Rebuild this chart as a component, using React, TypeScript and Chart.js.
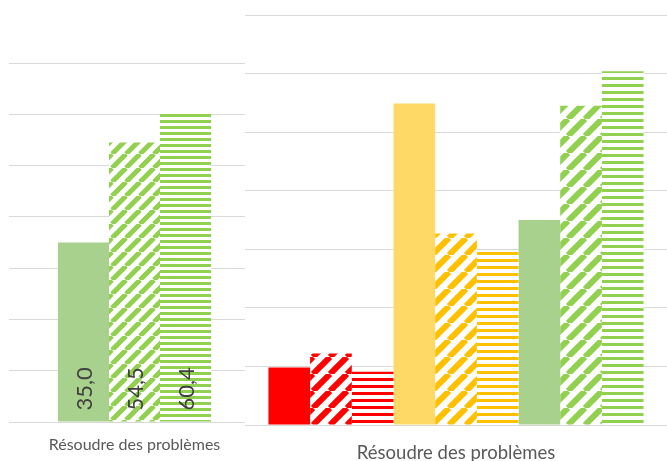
import React, { useEffect, useRef } from "react";
import { Chart, registerables } from "chart.js";

Chart.register(...registerables);

// ---- Data ----
const categories = ["Résoudre des problèmes"];
const redValues = [9.8, 12.2, 9.1];
const yellowValues = [54.9, 32.7, 29.6];
const greenValues = [35.0, 54.5, 60.4];
const yMin = 0;
const yMax = 70;
const yStep = 10;

// ---- Styles ----
const FONT = "Lato, 'Open Sans', sans-serif";
const GRID = "#d9d9d9";
const RED = "#ff0000";
const YELLOW_SOLID = "#ffd966";
const YELLOW_PAT = "#ffc000";
const GREEN_SOLID = "#a9d18e";
const GREEN_PAT = "#92d050";

function diagPattern(color: string, size: number, lw: number) {
  const c = document.createElement("canvas");
  c.width = size;
  c.height = size;
  const g = c.getContext("2d")!;
  g.fillStyle = "#ffffff";
  g.fillRect(0, 0, size, size);
  g.strokeStyle = color;
  g.lineWidth = lw;
  g.beginPath();
  for (const o of [-size, 0, size]) {
    g.moveTo(o, size);
    g.lineTo(o + size, 0);
  }
  g.stroke();
  return g.createPattern(c, "repeat")!;
}

function horizPattern(color: string, period: number, th: number) {
  const c = document.createElement("canvas");
  c.width = 8;
  c.height = period;
  const g = c.getContext("2d")!;
  g.fillStyle = "#ffffff";
  g.fillRect(0, 0, 8, period);
  g.fillStyle = color;
  g.fillRect(0, 0, 8, th);
  return g.createPattern(c, "repeat")!;
}

const fmt = (v: number) => v.toFixed(1).replace(".", ",");

const valueLabelPlugin = {
  id: "valueLabels",
  afterDatasetsDraw(chart: any) {
    const ctx = chart.ctx;
    chart.data.datasets.forEach((ds: any, i: number) => {
      const meta = chart.getDatasetMeta(i);
      meta.data.forEach((bar: any, j: number) => {
        const v = ds.data[j];
        ctx.save();
        ctx.translate(bar.x + 1, bar.base - 11);
        ctx.rotate(-Math.PI / 2);
        ctx.textAlign = "left";
        ctx.textBaseline = "middle";
        ctx.fillStyle = "#404040";
        ctx.font = `22px ${FONT}`;
        ctx.fillText(fmt(v), 0, 0);
        ctx.restore();
      });
    });
  },
};

// Category label drawn under the plot at the x scale's category position
function categoryLabelPlugin(fontSize: number, baselineOffset: number) {
  return {
    id: "categoryLabel",
    afterDraw(chart: any) {
      const ctx = chart.ctx;
      const xs = chart.scales.x;
      ctx.save();
      ctx.font = `${fontSize}px ${FONT}`;
      ctx.fillStyle = "#595959";
      ctx.textAlign = "center";
      ctx.textBaseline = "alphabetic";
      chart.data.labels.forEach((lab: string, i: number) => {
        ctx.fillText(lab, xs.getPixelForValue(i), chart.chartArea.bottom + baselineOffset);
      });
      ctx.restore();
    },
  };
}

type PanelProps = {
  left: number;
  width: number;
  height: number;
  build: () => any;
};

function Panel({ left, width, height, build }: PanelProps) {
  const ref = useRef<HTMLCanvasElement | null>(null);
  useEffect(() => {
    if (!ref.current) return;
    const chart = new Chart(ref.current, build());
    return () => chart.destroy();
  }, []);
  return (
    <canvas
      ref={ref}
      width={width}
      height={height}
      style={{
        position: "absolute",
        left,
        top: 0,
        width,
        height,
        background: "#ffffff",
      }}
    />
  );
}

function baseOptions(pad: any) {
  return {
    responsive: false,
    animation: false,
    devicePixelRatio: 1,
    layout: { padding: pad },
    plugins: { legend: { display: false }, tooltip: { enabled: false } },
    scales: {
      x: { display: false },
      y: {
        min: yMin,
        max: yMax,
        ticks: { stepSize: yStep, display: false },
        grid: { color: GRID, lineWidth: 1, drawTicks: false },
        border: { display: false },
      },
    },
  };
}

function buildLeft() {
  const cp = 0.61;
  const ds = (data: number[], bg: any) => ({
    data,
    backgroundColor: bg,
    borderWidth: 0,
    barPercentage: 1,
    categoryPercentage: cp,
  });
  return {
    type: "bar",
    data: {
      labels: categories,
      datasets: [
        ds([greenValues[0]], GREEN_SOLID),
        ds([greenValues[1]], diagPattern(GREEN_PAT, 14, 5)),
        ds([greenValues[2]], horizPattern(GREEN_PAT, 6, 3)),
      ],
    },
    options: baseOptions({ left: 9, right: 0, top: 63, bottom: 461 - 422 }),
    plugins: [valueLabelPlugin, categoryLabelPlugin(16, 28)],
  };
}

function buildRight() {
  const cp = 0.889;
  const ds = (data: number[], bg: any) => ({
    data,
    backgroundColor: bg,
    borderWidth: 0,
    barPercentage: 1,
    categoryPercentage: cp,
  });
  return {
    type: "bar",
    data: {
      labels: categories,
      datasets: [
        ds([redValues[0]], RED),
        ds([redValues[1]], diagPattern(RED, 17, 6)),
        ds([redValues[2]], horizPattern(RED, 7, 3)),
        ds([yellowValues[0]], YELLOW_SOLID),
        ds([yellowValues[1]], diagPattern(YELLOW_PAT, 17, 6)),
        ds([yellowValues[2]], horizPattern(YELLOW_PAT, 7, 3)),
        ds([greenValues[0]], GREEN_SOLID),
        ds([greenValues[1]], diagPattern(GREEN_PAT, 17, 6)),
        ds([greenValues[2]], horizPattern(GREEN_PAT, 7, 3)),
      ],
    },
    options: baseOptions({ left: 0, right: 0, top: 15, bottom: 461 - 425 }),
    plugins: [categoryLabelPlugin(18.5, 34)],
  };
}

export default function App() {
  useEffect(() => {
    document.body.style.margin = "0";
  }, []);
  return (
    <div
      style={{
        position: "fixed",
        left: 0,
        top: 0,
        width: 667,
        height: 461,
        overflow: "hidden",
        background: "#ffffff",
      }}
    >
      <Panel left={0} width={260} height={461} build={buildLeft} />
      <Panel left={245} width={422} height={461} build={buildRight} />
    </div>
  );
}
